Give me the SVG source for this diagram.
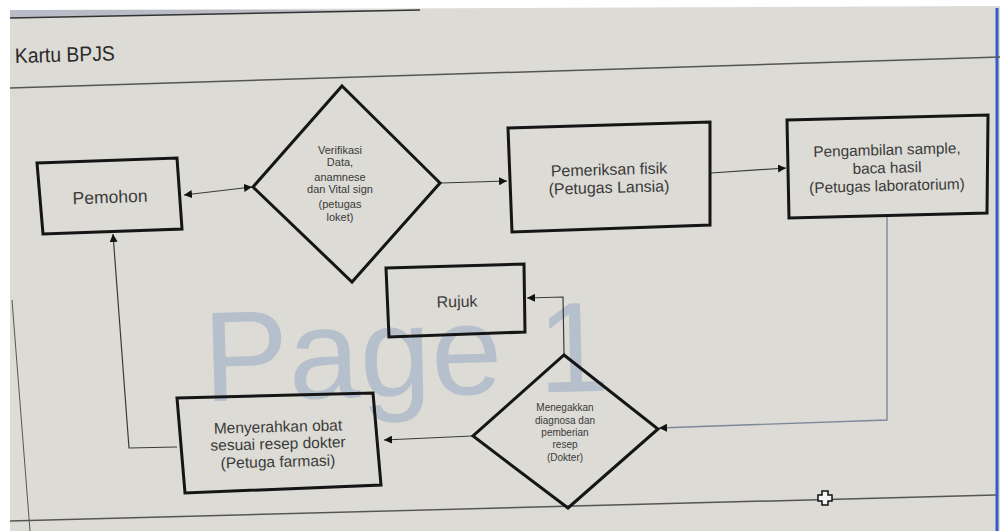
<svg xmlns="http://www.w3.org/2000/svg" width="1000" height="531" viewBox="0 0 1000 531">
<style>
.box{fill:none;stroke:#151515;stroke-width:3;stroke-linejoin:miter}
.conn{fill:none;stroke:#3a3a3a;stroke-width:1.2}
.connb{fill:none;stroke:#7d8899;stroke-width:1.4}
.lbl{font-family:"Liberation Sans",Arial,sans-serif;fill:#3a3a3a;text-anchor:middle}
.big{font-size:16px}
.mid{font-size:15.5px}
.sm{font-size:11px}
.xs{font-size:10px}
</style>
<defs>
<marker id="ah" viewBox="0 0 10 10" refX="10" refY="5" markerWidth="8" markerHeight="8" markerUnits="userSpaceOnUse" orient="auto-start-reverse">
<path d="M0,0 L10,5 L0,10 Z" fill="#111"/>
</marker>
</defs>
<rect width="1000" height="531" fill="#ffffff"/>
<polygon points="10,10 1000,6 1000,531 10,531" fill="#dcdbd5"/>
<polygon points="10,10 420,10 10,18" fill="#b9bcc6"/>
<line x1="10" y1="18" x2="420" y2="10" stroke="#333" stroke-width="1.5"/>
<line x1="997" y1="8" x2="997" y2="531" stroke="#2f5fc8" stroke-width="3"/>
<line x1="10" y1="88" x2="1000" y2="57" stroke="#555" stroke-width="1.5"/>
<line x1="10" y1="521" x2="996" y2="495" stroke="#555" stroke-width="1.5"/>
<line x1="12" y1="300" x2="30" y2="531" stroke="#555" stroke-width="1"/>
<text x="15" y="63" font-family="Liberation Sans, Arial, sans-serif" font-size="21" fill="#2a2a2a" transform="rotate(-1.5 15 63)" textLength="100" lengthAdjust="spacingAndGlyphs">Kartu BPJS</text>
<text x="203" y="396" font-family="Liberation Sans, Arial, sans-serif" font-size="128" fill="#a9b6c8" fill-opacity="0.75" transform="rotate(-1.5 400 350)">Page 1</text>
<g id="connectors">
<line class="conn" x1="184" y1="195" x2="252" y2="187" marker-start="url(#ah)" marker-end="url(#ah)"/>
<line class="conn" x1="441" y1="183" x2="507" y2="181" marker-end="url(#ah)"/>
<line class="conn" x1="711" y1="173" x2="786" y2="168" marker-end="url(#ah)"/>
<polyline class="connb" points="887,216 887,420 659,428" marker-end="url(#ah)"/>
<polyline class="conn" points="564,354 563,297 527,298" marker-end="url(#ah)"/>
<line class="conn" x1="472" y1="436" x2="384" y2="440" marker-end="url(#ah)"/>
<polyline class="conn" points="177,447 129,448 113,234" marker-end="url(#ah)"/>
</g>
<g id="pemohon">
<polygon class="box" points="37,163 177,158 182,229 43,234"/>
<text class="lbl" font-size="17.5" x="110" y="203" transform="rotate(-2 110 197)">Pemohon</text>
</g>
<g id="verifikasi">
<polygon class="box" points="342,86 440,183 352,282 253,187"/>
<g class="lbl sm">
<text x="340" y="154">Verifikasi</text>
<text x="340" y="166">Data,</text>
<text x="340" y="181">anamnese</text>
<text x="340" y="193">dan Vital sign</text>
<text x="340" y="208">(petugas</text>
<text x="340" y="221">loket)</text>
</g>
</g>
<g id="pemeriksan">
<polygon class="box" points="508,128 710,122 710,225 512,232"/>
<text class="lbl big" x="609" y="175" transform="rotate(-1.5 609 170)">Pemeriksan fisik</text>
<text class="lbl big" x="609" y="193" transform="rotate(-1.5 609 188)">(Petugas Lansia)</text>
</g>
<g id="laboratorium">
<polygon class="box" points="787,120 988,115 987,213 789,218"/>
<text class="lbl" font-size="15.3" x="887" y="155" transform="rotate(-1.5 887 150)">Pengambilan  sample,</text>
<text class="lbl" font-size="15.3" x="887" y="173" transform="rotate(-1.5 887 168)">baca hasil</text>
<text class="lbl" font-size="15.3" x="887" y="191" transform="rotate(-1.5 887 186)">(Petugas laboratorium)</text>
</g>
<g id="rujuk">
<polygon class="box" points="386,268 524,264 525,332 389,337"/>
<text class="lbl big" x="457" y="307" transform="rotate(-1.5 457 302)">Rujuk</text>
</g>
<g id="diagnosa">
<polygon class="box" points="564,355 658,429 568,508 473,436"/>
<g class="lbl xs">
<text x="565" y="411">Menegakkan</text>
<text x="565" y="424">diagnosa dan</text>
<text x="565" y="436">pemberian</text>
<text x="565" y="448">resep</text>
<text x="565" y="461">(Dokter)</text>
</g>
</g>
<g id="farmasi">
<polygon class="box" points="177,398 373,393 381,485 185,493"/>
<text class="lbl mid" x="278" y="432" transform="rotate(-1.5 278 427)">Menyerahkan  obat</text>
<text class="lbl mid" x="278" y="449" transform="rotate(-1.5 278 444)">sesuai resep dokter</text>
<text class="lbl mid" x="278" y="467" transform="rotate(-1.5 278 462)">(Petuga farmasi)</text>
</g>
<path d="M822,491 h6 v4 h4 v6 h-4 v4 h-6 v-4 h-4 v-6 h4 Z" fill="#f4f4f4" stroke="#111" stroke-width="1.5"/>
</svg>
